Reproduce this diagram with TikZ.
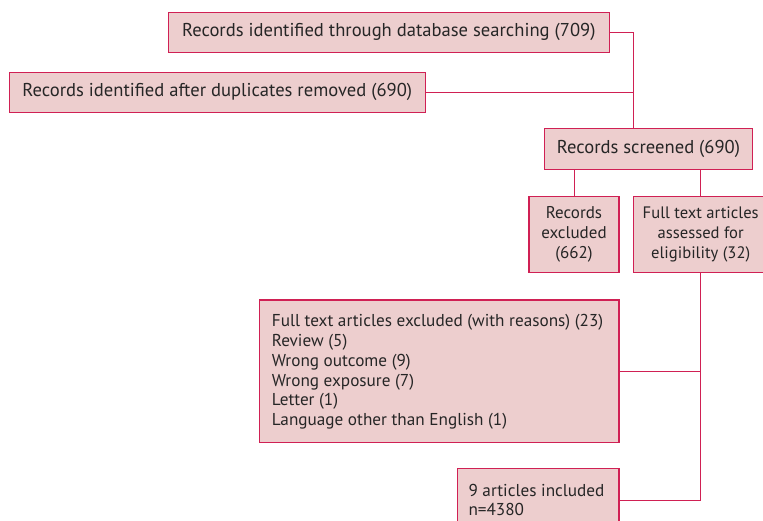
\documentclass[tikz,border=0pt]{standalone}
\usepackage{fontspec}
\setmainfont{PT Sans}
\definecolor{boxfill}{RGB}{237,206,206}
\definecolor{boxline}{RGB}{208,32,84}
\begin{document}
\begin{tikzpicture}[x=1bp,y=-1bp,
  box/.style={draw=boxline,fill=boxfill,line width=1.3bp,inner sep=0pt,
    font=\fontsize{17bp}{20bp}\selectfont,text=black!85},
  bigtext/.style={font=\fontsize{18.6bp}{20bp}\selectfont},
  plain/.style={anchor=west,align=left,font=\fontsize{17.2bp}{19.8bp}\selectfont,text=black!85,inner sep=0pt},
  link/.style={draw=boxline,line width=0.9bp}]
\useasboundingbox (0,0) rectangle (763,521);
\clip (0,0) rectangle (763,521);
\fill[white] (0,0) rectangle (763,521);
\node[box,bigtext,minimum width=441bp,minimum height=40bp] (b1) at (388.8,32.4) {Records identified through database searching (709)};
\node[box,bigtext,minimum width=416bp,minimum height=40bp] (b2) at (217.3,92.3) {Records identified after duplicates removed (690)};
\node[box,bigtext,minimum width=208.4bp,minimum height=40.6bp] (scr) at (648.5,149) {Records screened (690)};
\node[box,minimum width=90bp,minimum height=76bp,align=center] (exc) at (574,234.7) {Records\\excluded\\(662)};
\node[box,font=\fontsize{16.6bp}{20bp}\selectfont,minimum width=134bp,minimum height=76bp,align=center] (ass) at (700.7,234.7) {Full text articles\\assessed for\\eligibility (32)};
\node[box,minimum width=359.3bp,minimum height=142.7bp] (rea) at (439.3,371.3) {};
\node[plain] (reat) at (271.7,372) {Full text articles excluded (with reasons) (23)\\Review (5)\\Wrong outcome (9)\\Wrong exposure (7)\\Letter (1)\\Language other than English (1)};
\node[box,minimum width=161.7bp,minimum height=63.3bp] (inc) at (538.2,500.4) {};
\node[plain] (inct) at (468.3,500) {9 articles included\\n=4380};
\coordinate (j) at (633.3,32.4);
\draw[link] (b1.east) -- (j) -- (j |- scr.north);
\draw[link] (b2.east) -- (b2.east -| j);
\draw[link] (scr.south -| exc.north) -- (exc.north);
\draw[link] (scr.south -| ass.north) -- (ass.north);
\draw[link] (ass.south) -- (ass.south |- inc.east) -- (inc.east);
\draw[link] (rea.east) -- (rea.east -| ass.south);
\end{tikzpicture}
\end{document}
